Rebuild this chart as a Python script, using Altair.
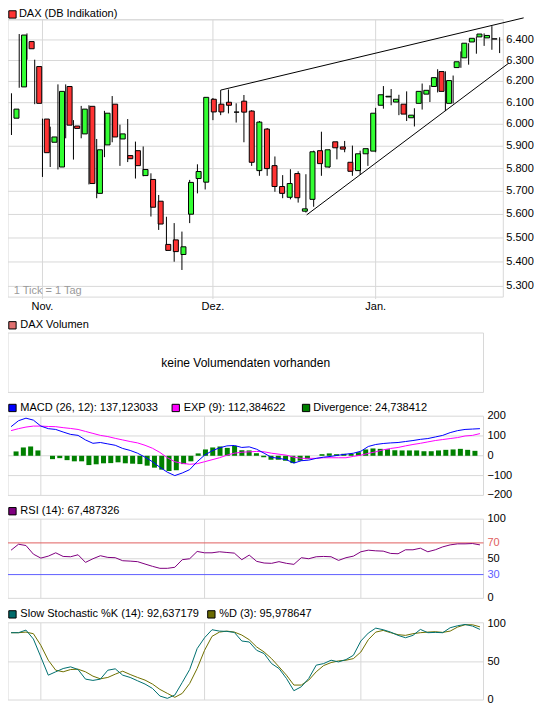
import altair as alt
import numpy as np
import pandas as pd

# ---------------- data ----------------
opens = [6028, 6174, 6392, 6271, 6024, 5918, 5807, 6176, 5992, 5956,
         6083, 5691, 5906, 6093, 5933, 5858, 5880, 5769, 5752, 5657,
         5473, 5492, 5431, 5601, 5756, 5740, 6116, 6093, 6102, 6056,
         6107, 6061, 5791, 5978, 5813, 5721, 5674, 5778, 5614, 5665,
         5880, 5807, 5920, 5897, 5828, 5791, 5866, 5878, 6088, 6127,
         6103, 6093, 6030, 6097, 6140, 6176, 6247, 6097, 6266, 6313,
         6390, 6415, 6410, 6405]
highs = [6144, 6429, 6432, 6304, 6026, 5989, 6186, 6186, 6019, 6085,
         6088, 5933, 6062, 6131, 5998, 6024, 5921, 5899, 5779, 5684,
         5590, 5563, 5527, 5750, 5819, 6126, 6122, 6159, 6162, 6097,
         6136, 6065, 6015, 5983, 5854, 5771, 5797, 5788, 5775, 5880,
         5966, 5885, 5921, 5924, 5903, 5880, 5890, 6076, 6178, 6164,
         6137, 6153, 6074, 6190, 6182, 6258, 6248, 6228, 6344, 6384,
         6416, 6432, 6468, 6413]
lows = [5951, 6170, 6304, 6093, 5763, 5807, 5796, 5936, 5840, 5936,
        5730, 5670, 5851, 5918, 5812, 5829, 5756, 5766, 5591, 5534,
        5446, 5401, 5367, 5563, 5691, 5708, 6019, 6042, 6050, 6008,
        5918, 5812, 5768, 5768, 5698, 5670, 5665, 5651, 5608, 5633,
        5768, 5803, 5841, 5873, 5768, 5772, 5812, 5873, 6072, 6088,
        6042, 6015, 5990, 6068, 6103, 6148, 6061, 6096, 6265, 6280,
        6333, 6371, 6352, 6336]
closes = [6070, 6424, 6357, 6097, 5871, 5942, 6153, 5996, 5981, 6070,
          5734, 5884, 6051, 5942, 5956, 5844, 5813, 5796, 5631, 5559,
          5448, 5443, 5463, 5739, 5787, 6125, 6057, 6057, 6088, 6056,
          6056, 5828, 6010, 5800, 5721, 5691, 5734, 5672, 5624, 5875,
          5822, 5884, 5893, 5887, 5788, 5866, 5889, 6051, 6137, 6130,
          6116, 6047, 6042, 6153, 6158, 6218, 6153, 6204, 6294, 6384,
          6408, 6429, 6422, 6405]

month_index = [4, 26, 47]
month_labels = ["Nov.", "Dez.", "Jan."]

price_grid = [5300, 5400, 5500, 5600, 5700, 5800, 5900, 6000, 6100, 6200, 6300, 6400, 6500]
price_ticks = [5300, 5400, 5500, 5600, 5700, 5800, 5900, 6000, 6100, 6200, 6300, 6400]
price_labels = ["5.300", "5.400", "5.500", "5.600", "5.700", "5.800", "5.900",
                "6.000", "6.100", "6.200", "6.300", "6.400"]

trend_id = ["upper", "upper", "lower", "lower"]
trend_i = [27, 66.1, 38.1, 64.2]
trend_p = [6159, 6509, 5598, 6288]

macd = [147, 177, 190, 180, 150, 137, 133, 120, 108, 103,
        80, 63, 67, 60, 53, 37, 27, 13, -7, -30,
        -58, -83, -100, -87, -70, -30, 3, 25, 40, 50,
        52, 42, 45, 33, 13, -8, -13, -20, -37, -25,
        -22, -13, -7, -3, 3, 8, 13, 23, 47, 57,
        62, 65, 67, 72, 77, 83, 87, 95, 103, 117,
        127, 133, 135, 137]
signal = [127, 137, 145, 150, 150, 148, 147, 142, 138, 133,
          123, 113, 103, 97, 88, 80, 72, 65, 53, 38,
          17, -10, -30, -38, -43, -40, -30, -20, -10, 3,
          13, 18, 20, 22, 20, 13, 8, 3, -7, -13,
          -13, -13, -10, -10, -10, -10, -3, 3, 12, 20,
          30, 37, 42, 50, 57, 63, 70, 77, 82, 87,
          92, 100, 103, 112]
divergence = [22, 42, 47, 27, 0, -17, -12, -22, -28, -28,
              -47, -43, -38, -37, -33, -38, -40, -42, -50, -60,
              -70, -77, -73, -42, -28, 12, 32, 42, 47, 40,
              50, 28, 27, 13, -8, -20, -20, -25, -37, -25,
              -17, 0, 8, 12, 8, 10, 10, 18, 32, 37,
              35, 33, 28, 27, 27, 27, 23, 23, 27, 30,
              32, 35, 30, 25]
rsi = [60.8, 68.3, 66.7, 55.8, 50.8, 53.3, 57.5, 52.9, 52.5, 55,
       45.4, 50, 53.8, 51.7, 51.3, 47.5, 47, 46.3, 43.3, 40.4,
       37.9, 37.9, 39.2, 48.8, 50, 59.2, 57.5, 57.5, 58.8, 57.9,
       57.1, 48.8, 54.6, 46.7, 44.6, 44.2, 46.3, 44.2, 42.9, 51.3,
       50, 52.5, 52.9, 52.5, 47.9, 51.3, 53.3, 58.8, 60.8, 60,
       59.6, 56.7, 56.3, 61.3, 61.3, 63.3, 58.8, 61.3, 65, 67.5,
       68.8, 68.8, 69.2, 67.5]
stoch_k = [88.3, 88.3, 91.7, 80, 56.5, 32.6, 37, 41.3, 43.5, 40,
           27.4, 25.7, 27.4, 39.1, 40.9, 32.6, 29.6, 25.2, 20.9, 15.2,
           5.2, 2.2, 6.5, 23, 40, 67.4, 81.7, 92.2, 90.4, 90,
           88.7, 77.4, 76.1, 65.2, 60.9, 47.8, 41.3, 28.3, 12.2, 17.4,
           28.3, 45.7, 47.8, 52.2, 50, 53, 58.7, 77.4, 87.8, 94.3,
           92.2, 89.1, 84.8, 81.7, 84.8, 92.6, 88.3, 88.7, 88.3, 94.8,
           97.4, 99.1, 97, 92.6]
stoch_d = [88.3, 88.3, 89.1, 87, 71.7, 52.2, 39.1, 37, 40, 40.4,
           37, 31.3, 27.8, 29.6, 33.9, 37.8, 33.5, 29.6, 26.1, 20.9,
           13.9, 8.7, 3.5, 8.7, 21.7, 41.3, 65.2, 83.5, 89.1, 90.4,
           89.1, 85.2, 79.1, 69.6, 63, 54.3, 43.5, 32.6, 19.6, 19.6,
           26.1, 37, 45.2, 49.1, 51.3, 52.2, 54.3, 63, 79.1, 89.1,
           91.3, 88.3, 85.7, 84.8, 87, 88.3, 89.1, 89.6, 88.7, 90.4,
           95.7, 98.7, 98.7, 96.0]

macd_ticks = [200, 100, 0, -100, -200]
macd_labels = ["200", "100", "0", "\u2212100", "\u2212200"]
macd_grid = [-100, 0, 100]
rsi_ticks = [100, 70, 50, 30, 0]
rsi_labels = ["100", "70", "50", "30", "0"]
rsi_label_colors = ["black", "#e06060", "black", "#6060ff", "black"]
sto_ticks = [100, 50, 0]
sto_labels = ["100", "50", "0"]

# ---------------- layout helpers ----------------
FONT = "Liberation Sans"
GRID = "#d8d8d8"
GREEN = "#33ff33"
RED = "#ff3333"
SXF = 0.9896
SYF = 0.99
W, H = 526, 702


def X(r):
    return round((r - 2.5) * SXF, 2)


def Y(r):
    return round((r - 1.0) * SYF, 2)


one = pd.DataFrame({"k": [0]})


def text_at(x, y, s, color="black", align="left", size=11):
    return alt.Chart(one).mark_text(
        align=align, baseline="middle", font=FONT, fontSize=size, color=color
    ).encode(x=alt.value(X(x)), y=alt.value(Y(y)), text=alt.value(s))


def frame(x1, y1, x2, y2, stroke=GRID, fill="transparent"):
    return alt.Chart(one).mark_rect(fill=fill, stroke=stroke, strokeWidth=1).encode(
        x=alt.value(X(x1)), x2=alt.value(X(x2)), y=alt.value(Y(y1)), y2=alt.value(Y(y2))
    )


def legend(x, y, color, s, tx):
    return [frame(x, y - 3.7, x + 7.4, y + 3.7, stroke="black", fill=color),
            text_at(tx, y, s)]


xs_main = alt.Scale(domain=[0, 63], range=[X(6), X(499.3)], nice=False, zero=False)
xs_low = alt.Scale(domain=[0, 63], range=[X(5.6), X(479.4)], nice=False, zero=False)
ys_main = alt.Scale(type="log", domain=[5300, 6500], range=[Y(282.2), Y(12.8)], nice=False)
ys_macd = alt.Scale(domain=[-200, 200], range=[Y(493.3), Y(413.3)], nice=False)
ys_rsi = alt.Scale(domain=[0, 100], range=[Y(597.3), Y(517.3)], nice=False)
ys_sto = alt.Scale(domain=[0, 100], range=[Y(700), Y(623)], nice=False)

idx = list(range(len(opens)))
candles = pd.DataFrame({"i": idx, "open": opens, "high": highs, "low": lows, "close": closes})
candles["dir"] = np.where(candles["close"] >= candles["open"], "up", "down")
months = pd.DataFrame({"i": month_index, "lab": month_labels})
trend = pd.DataFrame({"i": trend_i, "p": trend_p, "line": trend_id})
ind = pd.DataFrame({"i": idx, "macd": macd, "signal": signal, "div": divergence,
                    "rsi": rsi, "k": stoch_k, "d": stoch_d})

L = []

# ---------------- main price panel ----------------
L += legend(3.3, 7.5, RED, "DAX (DB Indikation)", 13.5)
L.append(alt.Chart(pd.DataFrame({"p": price_grid})).mark_rule(color=GRID).encode(
    y=alt.Y("p:Q", scale=ys_main, axis=None), x=alt.value(X(2.5)), x2=alt.value(X(503))))
L.append(alt.Chart(months).mark_rule(color=GRID).encode(
    x=alt.X("i:Q", scale=xs_main, axis=None), y=alt.value(Y(13)), y2=alt.value(Y(295))))
L.append(frame(2.5, 13, 503, 293))
L.append(text_at(8.3, 287, "1 Tick = 1 Tag", color="#9a9a9a"))
L.append(alt.Chart(candles).mark_rule(color="black", strokeWidth=1).encode(
    x=alt.X("i:Q", scale=xs_main, axis=None),
    y=alt.Y("low:Q", scale=ys_main, axis=None), y2="high:Q"))
L.append(alt.Chart(candles).mark_bar(size=5, stroke="black", strokeWidth=1).encode(
    x=alt.X("i:Q", scale=xs_main, axis=None),
    y=alt.Y("open:Q", scale=ys_main, axis=None), y2="close:Q",
    color=alt.Color("dir:N", scale=alt.Scale(domain=["up", "down"], range=[GREEN, RED]), legend=None)))
L.append(alt.Chart(trend).mark_line(color="black", strokeWidth=1).encode(
    x=alt.X("i:Q", scale=xs_main, axis=None),
    y=alt.Y("p:Q", scale=ys_main, axis=None), detail="line:N"))
L.append(alt.Chart(pd.DataFrame({"p": price_ticks, "lab": price_labels})).mark_text(
    align="left", baseline="middle", font=FONT, fontSize=11, color="black").encode(
    y=alt.Y("p:Q", scale=ys_main, axis=None), x=alt.value(X(506)), text="lab:N"))
L.append(alt.Chart(months).mark_text(
    align="center", baseline="middle", font=FONT, fontSize=11, color="black").encode(
    x=alt.X("i:Q", scale=xs_main, axis=None), y=alt.value(Y(303)), text="lab:N"))

# ---------------- volume panel ----------------
L += legend(3.3, 321.5, "#e07070", "DAX Volumen", 15)
L.append(frame(2.5, 329.3, 483, 389.3))
L.append(text_at(242.7, 359.3, "keine Volumendaten vorhanden", align="center", size=12))

# ---------------- MACD panel ----------------
L += legend(3.3, 405, "#0000ff", "MACD (26, 12): 137,123033", 15)
L += legend(168.3, 405, "#ff00ff", "EXP (9): 112,384622", 180)
L += legend(300, 405, "#008000", "Divergence: 24,738412", 311)
L.append(alt.Chart(pd.DataFrame({"v": macd_grid})).mark_rule(color=GRID).encode(
    y=alt.Y("v:Q", scale=ys_macd, axis=None), x=alt.value(X(2.5)), x2=alt.value(X(483))))
L.append(alt.Chart(months).mark_rule(color=GRID).encode(
    x=alt.X("i:Q", scale=xs_low, axis=None), y=alt.value(Y(413.3)), y2=alt.value(Y(493.3))))
L.append(frame(2.5, 413.3, 483, 493.3))
L.append(alt.Chart(ind).mark_bar(size=5, color="#008000").encode(
    x=alt.X("i:Q", scale=xs_low, axis=None),
    y=alt.Y("div:Q", scale=ys_macd, axis=None), y2=alt.datum(0)))
L.append(alt.Chart(ind).mark_line(color="#ff00ff", strokeWidth=1).encode(
    x=alt.X("i:Q", scale=xs_low, axis=None), y=alt.Y("signal:Q", scale=ys_macd, axis=None)))
L.append(alt.Chart(ind).mark_line(color="#0000ff", strokeWidth=1).encode(
    x=alt.X("i:Q", scale=xs_low, axis=None), y=alt.Y("macd:Q", scale=ys_macd, axis=None)))
L.append(alt.Chart(pd.DataFrame({"v": macd_ticks, "lab": macd_labels})).mark_text(
    align="left", baseline="middle", font=FONT, fontSize=11, color="black").encode(
    y=alt.Y("v:Q", scale=ys_macd, axis=None), x=alt.value(X(487)), text="lab:N"))

# ---------------- RSI panel ----------------
L += legend(3.3, 509.3, "#800080", "RSI (14): 67,487326", 15)
L.append(alt.Chart(pd.DataFrame({"v": [50]})).mark_rule(color=GRID).encode(
    y=alt.Y("v:Q", scale=ys_rsi, axis=None), x=alt.value(X(2.5)), x2=alt.value(X(483))))
L.append(alt.Chart(months).mark_rule(color=GRID).encode(
    x=alt.X("i:Q", scale=xs_low, axis=None), y=alt.value(Y(517.3)), y2=alt.value(Y(597.3))))
L.append(frame(2.5, 517.3, 483, 597.3))
L.append(alt.Chart(pd.DataFrame({"v": [70, 30], "c": ["hi", "lo"]})).mark_rule(strokeWidth=1).encode(
    y=alt.Y("v:Q", scale=ys_rsi, axis=None), x=alt.value(X(2.5)), x2=alt.value(X(483)),
    color=alt.Color("c:N", scale=alt.Scale(domain=["hi", "lo"], range=["#e06060", "#6060ff"]), legend=None)))
L.append(alt.Chart(ind).mark_line(color="#800080", strokeWidth=1).encode(
    x=alt.X("i:Q", scale=xs_low, axis=None), y=alt.Y("rsi:Q", scale=ys_rsi, axis=None)))
L.append(alt.Chart(pd.DataFrame({"v": rsi_ticks, "lab": rsi_labels, "c": rsi_label_colors})).mark_text(
    align="left", baseline="middle", font=FONT, fontSize=11).encode(
    y=alt.Y("v:Q", scale=ys_rsi, axis=None), x=alt.value(X(487)), text="lab:N",
    color=alt.Color("c:N", scale=None)))

# ---------------- Stochastic panel ----------------
L += legend(3.3, 613.5, "#006a6a", "Slow Stochastic %K (14): 92,637179", 15)
L += legend(204.3, 613.5, "#6a6a00", "%D (3): 95,978647", 216)
L.append(alt.Chart(pd.DataFrame({"v": [50]})).mark_rule(color=GRID).encode(
    y=alt.Y("v:Q", scale=ys_sto, axis=None), x=alt.value(X(2.5)), x2=alt.value(X(483))))
L.append(alt.Chart(months).mark_rule(color=GRID).encode(
    x=alt.X("i:Q", scale=xs_low, axis=None), y=alt.value(Y(622)), y2=alt.value(Y(700))))
L.append(frame(2.5, 622, 483, 700))
L.append(alt.Chart(ind).mark_line(color="#707000", strokeWidth=1).encode(
    x=alt.X("i:Q", scale=xs_low, axis=None), y=alt.Y("d:Q", scale=ys_sto, axis=None)))
L.append(alt.Chart(ind).mark_line(color="#007070", strokeWidth=1).encode(
    x=alt.X("i:Q", scale=xs_low, axis=None), y=alt.Y("k:Q", scale=ys_sto, axis=None)))
L.append(alt.Chart(pd.DataFrame({"v": sto_ticks, "lab": sto_labels})).mark_text(
    align="left", baseline="middle", font=FONT, fontSize=11, color="black").encode(
    y=alt.Y("v:Q", scale=ys_sto, axis=None), x=alt.value(X(487)), text="lab:N"))

chart = alt.layer(*L).resolve_scale(
    x="independent", y="independent", color="independent"
).properties(
    width=W, height=H, padding=0, autosize=alt.AutoSizeParams(type="none")
).configure_view(strokeWidth=0)

chart.save("out.html", embed_options={"renderer": "svg", "actions": False})
